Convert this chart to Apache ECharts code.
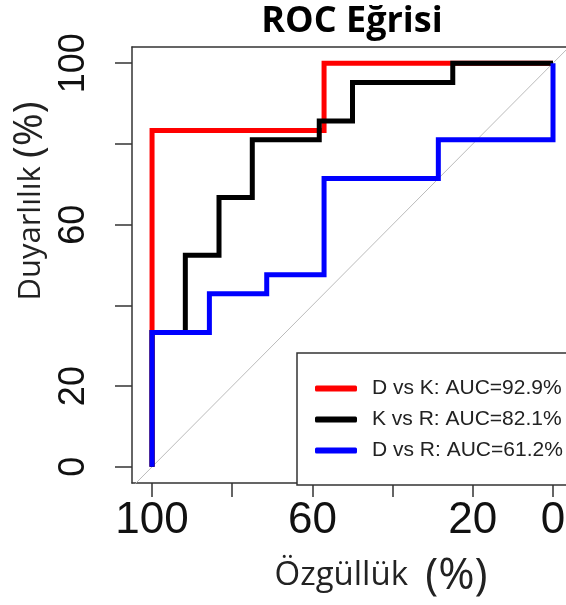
<!DOCTYPE html>
<html lang="tr">
<head>
    <meta charset="UTF-8">
    <script src="https://cdn.jsdelivr.net/npm/echarts@6.0.0/dist/echarts.min.js"></script>
    <style>
        html, body { margin: 0; padding: 0; background: #fff; }
        #rocct { width: 566px; height: 605px; }
    </style>
    <title>ROC Eğrisi</title>
</head>
<body>
    <div id="rocct"></div>
</body>
</html>
<script type="text/javascript">
    // özgüllük (x) ve duyarlılık (y) basamakları, % olarak
    var dkX = [100, 100, 57.1, 57.1, 0];
    var dkY = [0, 83.3, 83.3, 100, 100];
    var krX = [100, 100, 91.7, 91.7, 83.3, 83.3, 75, 75, 58.3, 58.3, 50, 50, 25, 25, 0];
    var krY = [0, 33.3, 33.3, 52.4, 52.4, 66.7, 66.7, 81, 81, 85.7, 85.7, 95.2, 95.2, 100, 100];
    var drX = [100, 100, 85.7, 85.7, 71.4, 71.4, 57.1, 57.1, 28.6, 28.6, 0, 0];
    var drY = [0, 33.3, 33.3, 42.9, 42.9, 47.6, 47.6, 71.4, 71.4, 81, 81, 100];
    var seriesNames = ['D vs K: AUC=92.9%', 'K vs R: AUC=82.1%', 'D vs R: AUC=61.2%'];
    var seriesColors = ['#ff0000', '#000000', '#0000ff'];
    var xTicks = [100, 80, 60, 40, 20, 0];
    var xLabels = [100, 60, 20, 0];
    var yTicks = [0, 20, 40, 60, 80, 100];
    var yLabels = [0, 20, 60, 100];
    var diagX = [105, -5];
    var diagY = [-5, 105];

    function pairs(xs, ys) {
        var out = [];
        for (var i = 0; i < xs.length; i++) {
            out.push([xs[i], ys[i]]);
        }
        return out;
    }

    function rocEchart() {
        var chartDom = document.getElementById('rocct');
        var myChart = echarts.init(chartDom, null, {renderer: 'canvas'});
        var option;

        var curves = [[dkX, dkY], [krX, krY], [drX, drY]];
        var series = [{
            name: 'diag',
            type: 'line',
            data: pairs(diagX, diagY),
            showSymbol: false,
            silent: true,
            clip: true,
            lineStyle: {color: '#bbbbbb', width: 1}
        }];
        curves.forEach(function (c, i) {
            series.push({
                name: seriesNames[i],
                type: 'line',
                data: pairs(c[0], c[1]),
                showSymbol: false,
                clip: true,
                color: seriesColors[i],
                lineStyle: {color: seriesColors[i], width: 5, join: 'miter'}
            });
        });

        var boxLine = {show: true, onZero: false, lineStyle: {color: '#333', width: 1.5}};

        option = {
            animation: false,
            title: {
                text: 'ROC Eğrisi',
                left: 347,
                top: -1,
                textAlign: 'center',
                textStyle: {fontFamily: 'Open Sans', fontWeight: 'bold', fontSize: 36, color: '#000'}
            },
            grid: {left: 132, right: 0, top: 47, bottom: 122, containLabel: false, outerBoundsMode: 'none'},
            legend: {
                data: seriesNames,
                orient: 'vertical',
                left: 297,
                top: 353,
                padding: [25, 20, 24, 18],
                itemGap: 10,
                itemWidth: 42,
                itemHeight: 6,
                icon: 'roundRect',
                borderColor: '#333',
                borderWidth: 1.5,
                backgroundColor: '#fff',
                textStyle: {fontFamily: 'Liberation Sans', fontSize: 21, color: '#222', lineHeight: 21, padding: [0, 0, 0, 10]}
            },
            xAxis: [{
                type: 'value',
                position: 'bottom',
                min: -3.24,
                max: 105,
                inverse: true,
                splitLine: {show: false},
                axisLine: boxLine,
                axisTick: {show: true, customValues: xTicks, length: 14, lineStyle: {color: '#333', width: 1.5}},
                axisLabel: {customValues: xLabels, margin: 16, fontFamily: 'Liberation Sans', fontSize: 44, color: '#111'}
            }, {
                type: 'value',
                position: 'top',
                min: -3.24,
                max: 105,
                inverse: true,
                splitLine: {show: false},
                axisLine: boxLine,
                axisTick: {show: false},
                axisLabel: {show: false}
            }],
            yAxis: {
                type: 'value',
                min: -4,
                max: 104,
                splitLine: {show: false},
                axisLine: boxLine,
                axisTick: {show: true, customValues: yTicks, length: 17, lineStyle: {color: '#333', width: 1.5}},
                axisLabel: {customValues: yLabels, rotate: 90, margin: 40, fontFamily: 'Liberation Sans', fontSize: 36, color: '#111'}
            },
            graphic: [
                {
                    type: 'text',
                    x: 31, y: 201,
                    rotation: Math.PI / 2,
                    style: {
                        text: '{a|Duyarlılık }{b|(%)}',
                        align: 'center', verticalAlign: 'middle',
                        rich: {
                            a: {fontFamily: 'Open Sans', fontSize: 31, fill: '#222'},
                            b: {fontFamily: 'Open Sans', fontSize: 40, fill: '#222'}
                        }
                    }
                },
                {
                    type: 'text',
                    x: 381, y: 576,
                    style: {
                        text: '{a|Özgüllük  }{b|(%)}',
                        align: 'center', verticalAlign: 'middle',
                        rich: {
                            a: {fontFamily: 'Open Sans', fontSize: 33, fill: '#222'},
                            b: {fontFamily: 'Open Sans', fontSize: 44, fill: '#222'}
                        }
                    }
                }
            ],
            series: series
        };
        option && myChart.setOption(option);
    }

    rocEchart()
</script>
